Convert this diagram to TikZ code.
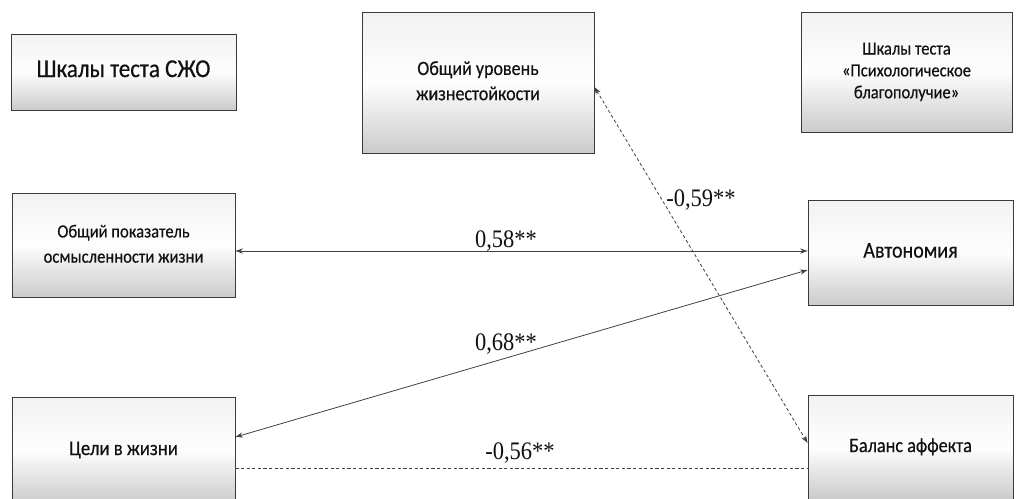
\documentclass[tikz,border=0pt]{standalone}
\usepackage{fontspec,xcolor,tikz}
\setmainfont{Carlito}[FakeBold=0.5]
\newfontfamily\zahlfont{Liberation Serif}
\usetikzlibrary{arrows.meta}
\definecolor{ink}{HTML}{111111}
\definecolor{rahmen}{HTML}{3A3A3A}
\definecolor{linie}{HTML}{404040}
\definecolor{oben}{HTML}{F2F2F2}
\definecolor{unten}{HTML}{CBCBCB}
\newcommand{\groesse}[1]{\fontsize{#1}{22.5}\selectfont}
\newcommand{\koeff}{\zahlfont\fontsize{22.5}{24}\selectfont}
\newcommand{\hoch}[1]{\scalebox{1}[1.12]{\begin{tabular}{@{}c@{}}#1\end{tabular}}}
\tikzset{skala/.style={draw=rahmen,line width=0.9pt,top color=oben,bottom color=unten,
    middle color=white!90!oben,inner sep=0,align=center,text=ink,font=\groesse{18}},
  pfeil/.style={linie,line width=0.8pt,{Stealth[length=2.6mm,width=1.8mm]}-{Stealth[length=2.6mm,width=1.8mm]}},
  gestrichelt/.style={linie,line width=0.8pt,dash pattern=on 3.2pt off 2.4pt},
  wert/.style={inner sep=0,text=ink,font=\koeff}}

\begin{document}
\begin{tikzpicture}[x=1pt,y=-1pt]
\useasboundingbox (0,0) rectangle (1017,498);
% Kaesten der drei Testskalen; Verbindungen mit Korrelationswerten,
% negative Werte gestrichelt
\node[skala,minimum width=225pt,minimum height=76pt,font=\groesse{23}] (szo) at (123.5,72) {\hoch{Шкалы теста СЖО}};
\node[skala,minimum width=232pt,minimum height=141pt] (zhizn) at (478,82.5) {\hoch{Общий уровень\\жизнестойкости}};
\node[skala,minimum width=211pt,minimum height=120pt,font=\fontsize{16.5}{19.5}\selectfont] (blago) at (906.5,72) {\hoch{Шкалы теста\\«Психологическое\\благополучие»}};
\node[skala,minimum width=223pt,minimum height=104pt,font=\groesse{16.6}] (osm) at (123.5,245) {\hoch{Общий показатель\\осмысленности жизни}};
\node[skala,minimum width=205pt,minimum height=105pt,font=\groesse{20}] (avto) at (910.5,252.5) {\hoch{Автономия}};
\node[skala,minimum width=223pt,minimum height=106pt,font=\groesse{18.7}] (celi) at (123.5,450) {\hoch{Цели в жизни}};
\node[skala,minimum width=205pt,minimum height=104pt,font=\groesse{18.2}] (balans) at (910.5,447) {\hoch{Баланс аффекта}};
\draw[pfeil] ([yshift=-6pt]osm.east) -- ([yshift=1.5pt]avto.west);
\draw[pfeil] ([yshift=13pt]celi.east) -- ([yshift=-17.5pt]avto.west);
\draw[gestrichelt] ([yshift=-18pt]celi.east) -- ([yshift=-21pt]balans.west);
\draw[gestrichelt,{Stealth[length=2.6mm,width=1.8mm]}-{Stealth[length=2.6mm,width=1.8mm]}]
  ([yshift=-4.5pt]zhizn.east) -- ([yshift=4pt]balans.west);
\node[wert] (r058) at (506,242) {\hoch{0,58**}};
\node[wert] (r059) at (701,201) {\hoch{-0,59**}};
\node[wert] (r068) at (506,345) {\hoch{0,68**}};
\node[wert] (r056) at (520,454) {\hoch{-0,56**}};
\end{tikzpicture}
\end{document}
